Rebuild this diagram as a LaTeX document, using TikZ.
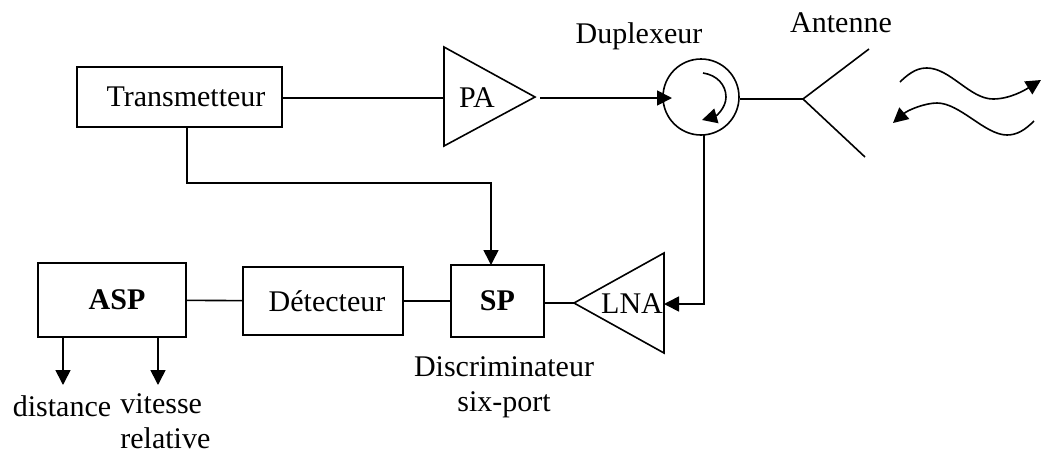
\documentclass[tikz,border=0pt]{standalone}
\usepackage{fontspec}
\setmainfont{Liberation Serif}
\usetikzlibrary{arrows.meta,positioning}

\begin{document}
\begin{tikzpicture}[
  x=.5pt, y=-.5pt,
  every node/.style={font=\fontsize{15}{17.5}\selectfont, inner sep=0pt},
  blk/.style={draw=black, line width=.8pt, minimum height=34pt},
  amp/.style={draw=black, line width=.8pt, line join=miter},
  lbl/.style={align=center},
  arr/.style={-{Triangle[length=7.5pt,width=7.5pt]}, draw=black, line width=.8pt},
  lin/.style={draw=black, line width=.8pt}
]
\useasboundingbox (0,0) rectangle (1041,452);

\node[blk, minimum width=102.5pt, minimum height=30pt] (trans) at (179.5,97) {\hspace*{6.5pt}\raisebox{-1pt}{Transmetteur}};
\node[blk, minimum width=74pt, minimum height=37pt] (asp) at (112,300) {\hspace*{5pt}\raisebox{-1.5pt}{\textbf{ASP}}};
\node[blk, minimum width=80pt] (det) at (323,301) {\hspace*{4pt}\raisebox{-1pt}{Détecteur}};
\node[blk, minimum width=46.5pt, minimum height=36pt] (sp) at (497.5,301) {\raisebox{-2pt}{\textbf{SP}}};

% amplifiers
\coordinate (patip) at (535,97);
\coordinate (lnatip) at (574,303);
\draw[amp] (444,47) -- (444,146) -- (patip) -- cycle;
\draw[amp] (664,253) -- (664,353) -- (lnatip) -- cycle;
\coordinate (pain) at (444,98);
\coordinate (paout) at (540,98);
\coordinate (lnain) at (664,304);
\node (pa) at (477,98) {PA};
\node (lna) at (632,304) {LNA};

% duplexeur
\node[draw=black, line width=.8pt, circle, minimum size=38pt] (dup) at (701,97) {};
\coordinate (dupin) at (672,98);
\coordinate (rota) at (703,73);
\coordinate (rotb) at (702,120);
\draw[arr] (rota) .. controls (717,75) and (726,85) .. (726,97) .. controls (726,108) and (716,116) .. (rotb);

% antenne
\coordinate (antv) at (803,99);
\coordinate (ant1) at (869,49);
\coordinate (ant2) at (865,157);
\draw[lin] (antv) -- (ant1);
\draw[lin] (antv) -- (ant2);

% ondes
\coordinate (w1a) at (900,82);
\coordinate (w1b) at (1041,80);
\coordinate (w2a) at (1034,121);
\coordinate (w2b) at (893,123);
\draw[arr] (w1a) .. controls (912,70) and (920,68) .. (927,68) .. controls (950,68) and (970,99) .. (993,99) .. controls (1010,99) and (1025,90) .. (w1b);
\draw[arr] (w2a) .. controls (1025,130) and (1017,135) .. (1007,135) .. controls (985,135) and (960,103) .. (937,103) .. controls (925,103) and (908,110) .. (w2b);

% liaisons
\draw[lin] (trans.east |- pain) -- (pain);
\draw[arr] (paout) -- (dupin);
\draw[lin] (dup.east |- antv) -- (antv);
\coordinate (c1) at (187,183);
\coordinate (c2) at (491,265);
\draw[arr] (trans.south -| c1) -- (c1) -| (c2);
\coordinate (c3) at (704,135);
\draw[arr] (c3) |- (lnain);
\draw[lin] (sp.east |- lnatip) -- (lnatip);
\draw[lin] (det) -- (sp);
\draw[lin] (asp) -- (det);

% sorties
\coordinate (s1) at (63,385);
\coordinate (s2) at (158,385);
\draw[arr] (asp.south -| s1) -- (s1);
\draw[arr] (asp.south -| s2) -- (s2);

\node[lbl] (dist) at (62,406) {distance};
\node[align=left, anchor=north west] (vit) at (120,393) {vitesse\\relative};
\node[lbl] (disc) at (504,387) {Discriminateur\\six-port};
\node (dupl) at (639,36) {Duplexeur};
\node (ant) at (841,23) {Antenne};
\end{tikzpicture}
\end{document}
